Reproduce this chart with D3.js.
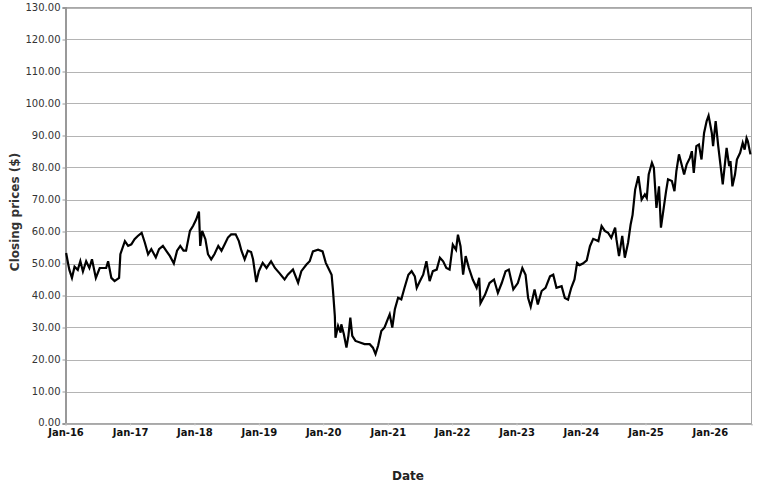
<!DOCTYPE html>
<html>
<head>
<meta charset="utf-8">
<script src="https://cdn.jsdelivr.net/npm/d3@7"></script>
<style>
  html, body { margin: 0; padding: 0; background: #fff; }
  svg { display: block; font-family: "DejaVu Sans", sans-serif; }
</style>
</head>
<body>
<svg id="chart" width="769" height="489"></svg>
<script>
// Decimal-year timestamps of the traced points
const years = [
  2016.01,2016.04,2016.06,2016.10,2016.14,2016.19,2016.23,2016.27,2016.32,2016.37,
  2016.41,2016.47,2016.53,2016.63,2016.66,2016.71,2016.76,2016.83,2016.85,2016.92,
  2016.97,2017.02,2017.07,2017.12,2017.18,2017.23,2017.28,2017.33,2017.40,2017.45,
  2017.51,2017.56,2017.62,2017.68,2017.73,2017.78,2017.83,2017.87,2017.93,2017.98,
  2018.03,2018.07,2018.09,2018.12,2018.17,2018.21,2018.26,2018.31,2018.37,2018.42,
  2018.47,2018.52,2018.57,2018.64,2018.69,2018.73,2018.78,2018.83,2018.88,2018.91,
  2018.96,2019.00,2019.06,2019.12,2019.19,2019.25,2019.32,2019.40,2019.45,2019.53,
  2019.61,2019.66,2019.74,2019.79,2019.84,2019.92,2019.99,2020.04,2020.09,2020.13,
  2020.15,2020.18,2020.19,2020.23,2020.27,2020.28,2020.32,2020.36,2020.39,2020.42,
  2020.45,2020.50,2020.57,2020.64,2020.72,2020.77,2020.81,2020.85,2020.90,2020.95,
  2021.00,2021.03,2021.07,2021.11,2021.16,2021.21,2021.26,2021.32,2021.37,2021.42,
  2021.45,2021.50,2021.55,2021.60,2021.65,2021.70,2021.76,2021.81,2021.86,2021.91,
  2021.96,2022.01,2022.06,2022.09,2022.13,2022.17,2022.21,2022.26,2022.32,2022.38,
  2022.42,2022.44,2022.51,2022.58,2022.65,2022.71,2022.77,2022.83,2022.88,2022.95,
  2023.02,2023.09,2023.14,2023.18,2023.22,2023.28,2023.33,2023.39,2023.45,2023.52,
  2023.57,2023.62,2023.70,2023.75,2023.80,2023.85,2023.90,2023.94,2023.98,2024.03,
  2024.09,2024.14,2024.19,2024.27,2024.32,2024.37,2024.42,2024.47,2024.53,2024.55,
  2024.59,2024.64,2024.68,2024.73,2024.77,2024.80,2024.84,2024.89,2024.94,2024.99,
  2025.02,2025.05,2025.10,2025.13,2025.17,2025.21,2025.24,2025.28,2025.32,2025.35,
  2025.41,2025.45,2025.48,2025.52,2025.56,2025.60,2025.64,2025.69,2025.72,2025.75,
  2025.79,2025.83,2025.87,2025.91,2025.95,2025.98,2026.03,2026.05,2026.09,2026.13,
  2026.17,2026.20,2026.23,2026.26,2026.30,2026.32,2026.35,2026.39,2026.42,2026.47,
  2026.51,2026.54,2026.57,2026.59,2026.63
];
// Closing prices ($)
const prices = [
  53.3,50.0,48.0,45.5,49.0,48.0,50.7,47.5,50.7,48.6,
  51.3,45.5,48.6,48.6,50.7,45.5,44.5,45.5,52.9,57.0,
  55.5,56.0,57.6,58.6,59.6,56.5,52.9,54.5,51.9,54.5,
  55.5,54.0,52.3,50.0,54.0,55.5,54.0,54.0,60.2,61.8,
  63.9,66.2,55.5,60.2,57.6,52.9,51.3,52.9,55.5,54.0,
  56.0,58.1,59.1,59.1,57.0,54.0,51.3,54.0,53.6,51.3,
  44.2,47.6,50.2,48.6,50.7,48.6,47.0,45.0,46.5,48.1,
  44.0,47.6,49.7,50.7,53.8,54.3,53.8,50.2,48.1,46.5,
  41.9,33.6,26.8,30.5,28.4,31.0,27.9,23.7,27.4,33.1,
  27.4,25.8,25.3,24.8,24.8,23.7,21.7,24.3,28.9,30.0,
  32.6,34.1,30.0,35.7,39.3,38.8,42.4,46.5,47.6,46.0,
  42.4,44.5,46.5,50.7,44.5,47.6,48.1,51.8,50.7,48.6,
  48.1,55.9,54.3,59.0,55.4,46.5,52.3,48.6,45.0,42.4,
  45.5,37.6,40.2,43.9,45.0,40.8,43.9,47.6,48.1,41.9,
  43.9,48.6,46.5,39.2,36.5,41.9,37.2,41.4,42.4,46.0,
  46.5,42.4,42.9,39.2,38.7,42.4,45.0,50.2,49.5,50.0,
  51.0,55.4,57.7,57.0,61.7,60.2,59.6,58.0,61.2,57.6,
  52.3,58.6,51.8,56.5,62.2,65.2,73.1,77.3,70.0,71.6,
  70.5,77.8,81.5,79.9,67.4,74.1,61.2,66.9,72.6,76.3,
  75.8,72.6,78.9,84.1,81.0,77.8,81.0,83.0,85.1,78.3,
  86.7,87.2,82.5,90.8,94.5,96.2,90.8,86.7,94.5,86.7,
  79.9,74.7,80.4,86.1,80.4,82.0,74.1,77.8,82.5,84.6,
  87.7,85.6,89.2,88.2,84.1
];
const yTicks = [0,10,20,30,40,50,60,70,80,90,100,110,120,130];
const xTickYears = [2016,2017,2018,2019,2020,2021,2022,2023,2024,2025,2026];
const xTitle = "Date";
const yTitle = "Closing prices ($)";

function toDate(t) {
  const y = Math.floor(t);
  const a = new Date(y, 0, 1).getTime();
  const b = new Date(y + 1, 0, 1).getTime();
  return new Date(a + (t - y) * (b - a));
}
const data = years.map((t, i) => ({ date: toDate(t), value: prices[i] }));

const svg = d3.select("#chart");
const m = { left: 65.5, right: 751.5, top: 7.5, bottom: 423.5 };

const x = d3.scaleTime()
  .domain([new Date(2016, 0, 1), new Date(2026, 7, 25)])
  .range([m.left, m.right]);
const y = d3.scaleLinear().domain([0, 130]).range([m.bottom, m.top]);

// plot background
svg.append("rect")
  .attr("x", m.left).attr("y", m.top)
  .attr("width", m.right - m.left).attr("height", m.bottom - m.top)
  .attr("fill", "#fff");

// horizontal gridlines
svg.append("g").selectAll("line").data(yTicks).join("line")
  .attr("x1", m.left).attr("x2", m.right)
  .attr("y1", d => Math.round(y(d)) + 0.5).attr("y2", d => Math.round(y(d)) + 0.5)
  .attr("stroke", "#b4b4b4").attr("stroke-width", 1);

// frame
svg.append("rect")
  .attr("x", m.left).attr("y", m.top)
  .attr("width", m.right - m.left).attr("height", m.bottom - m.top)
  .attr("fill", "none").attr("stroke", "#a8a8a8").attr("stroke-width", 1);

// y axis
const yAxis = d3.axisLeft(y).tickValues(yTicks).tickFormat(d3.format(".2f"))
  .tickSize(3).tickPadding(2);
const gy = svg.append("g").attr("transform", `translate(${m.left},0)`).call(yAxis);
gy.select(".domain").attr("stroke", "#999").attr("stroke-width", 2);
gy.selectAll(".tick line").attr("stroke", "#999");
gy.selectAll("text").attr("fill", "#333").style("font-size", "10px")
  .style("font-family", "'DejaVu Sans', sans-serif")
  .attr("dy", d => d === 0 ? "0.2em" : "0.32em");

// x axis
const xAxis = d3.axisBottom(x)
  .tickValues(xTickYears.map(yr => new Date(yr, 0, 1)))
  .tickFormat(d3.timeFormat("%b-%y"))
  .tickSize(2).tickPadding(3);
const gx = svg.append("g").attr("transform", `translate(0,${m.bottom})`).call(xAxis);
gx.select(".domain").attr("stroke", "#a8a8a8");
gx.selectAll(".tick line").attr("stroke", "#ccc");
gx.selectAll("text").attr("fill", "#111").style("font-size", "10px")
  .style("font-weight", "bold").style("font-family", "'DejaVu Sans', sans-serif");

// line
const line = d3.line().x(d => x(d.date)).y(d => y(d.value));
svg.append("path").datum(data)
  .attr("d", line)
  .attr("fill", "none").attr("stroke", "#000")
  .attr("stroke-width", 2.2).attr("stroke-linejoin", "miter");

// titles
svg.append("text")
  .attr("x", 408).attr("y", 480)
  .attr("text-anchor", "middle")
  .attr("fill", "#222")
  .style("font-size", "12px").style("font-weight", "bold")
  .text(xTitle);

svg.append("text")
  .attr("transform", "translate(19,212) rotate(-90)")
  .attr("text-anchor", "middle")
  .attr("fill", "#333")
  .style("font-size", "12px").style("font-weight", "bold")
  .text(yTitle);
</script>
</body>
</html>
